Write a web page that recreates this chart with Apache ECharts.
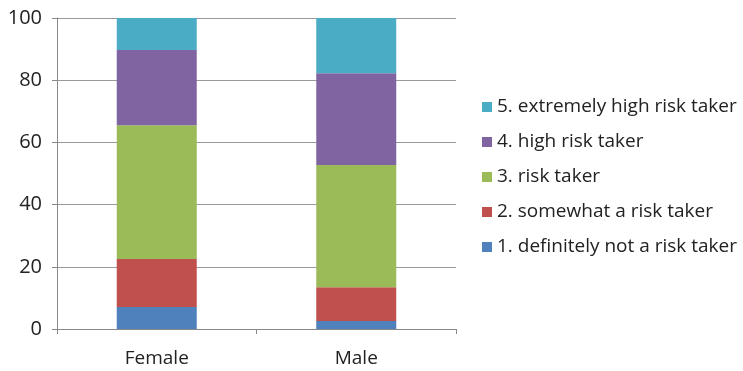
<!DOCTYPE html>
<html>
<head>
<meta charset="utf-8">
<script src="https://cdn.jsdelivr.net/npm/echarts@6/dist/echarts.min.js"></script>
<style>
  html, body { margin: 0; padding: 0; background: #fff; }
  #chart { width: 743px; height: 371px; }
</style>
</head>
<body>
<div id="chart"></div>
<script>
// Share of respondents by self-rated risk attitude, per gender (%)
const categories = ['Female', 'Male'];
const seriesNames = [
  '1. definitely not a risk taker',
  '2. somewhat a risk taker',
  '3. risk taker',
  '4. high risk taker',
  '5. extremely high risk taker'
];
const level1 = [7.1, 2.6];
const level2 = [15.4, 10.8];
const level3 = [43.0, 39.3];
const level4 = [24.2, 29.5];
const level5 = [10.3, 17.8];
const yTicks = [0, 20, 40, 60, 80, 100];

const values = [level1, level2, level3, level4, level5];
const colors = ['#4F81BD', '#C0504D', '#9BBB59', '#8064A2', '#4BACC6'];
const fontFamily = '"Open Sans", "Liberation Sans", sans-serif';

const chart = echarts.init(document.getElementById('chart'));
chart.setOption({
  animation: false,
  textStyle: { fontFamily: fontFamily },
  grid: { left: 57, right: 287, top: 18, bottom: 42, containLabel: false },
  legend: {
    orient: 'vertical',
    left: 477,
    top: 91,
    itemWidth: 10,
    itemHeight: 10,
    itemGap: 13,
    icon: 'rect',
    data: seriesNames.slice().reverse(),
    textStyle: { fontSize: 19, color: '#222', lineHeight: 22, fontFamily: fontFamily }
  },
  xAxis: {
    type: 'category',
    data: categories,
    axisLine: { lineStyle: { color: '#888', width: 1 } },
    axisTick: { show: true, alignWithLabel: false, length: 5, lineStyle: { color: '#888' } },
    axisLabel: { fontSize: 19, color: '#222', margin: 20, fontFamily: fontFamily }
  },
  yAxis: {
    type: 'value',
    min: yTicks[0],
    max: yTicks[yTicks.length - 1],
    interval: 20,
    axisLine: { show: true, lineStyle: { color: '#888', width: 1 } },
    axisTick: { show: true, length: 5, lineStyle: { color: '#888' } },
    axisLabel: { fontSize: 20, color: '#222', margin: 15, fontFamily: fontFamily },
    splitLine: { lineStyle: { color: '#999', width: 1 } }
  },
  series: seriesNames.map((name, i) => ({
    name: name,
    type: 'bar',
    stack: 'total',
    barWidth: 80,
    data: values[i],
    itemStyle: { color: colors[i] }
  }))
});
</script>
</body>
</html>
